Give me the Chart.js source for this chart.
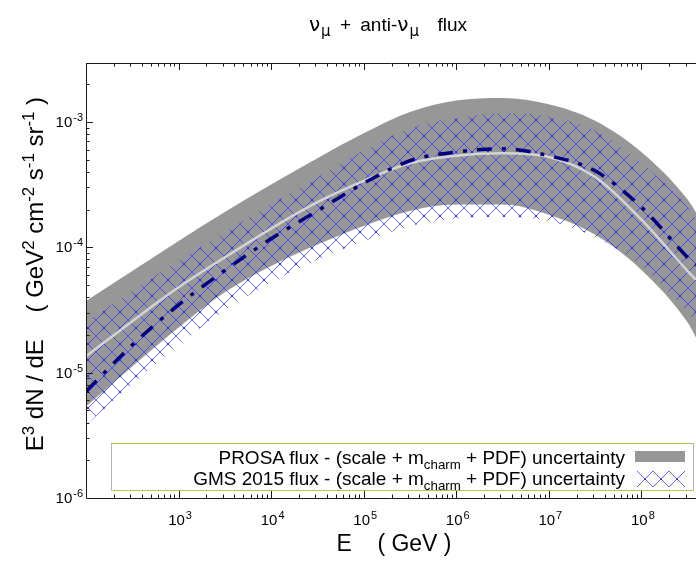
<!DOCTYPE html>
<html>
<head>
<meta charset="utf-8">
<script src="https://cdn.jsdelivr.net/npm/chart.js@4.4.1/dist/chart.umd.min.js"></script>
<style>
  body { margin: 0; background: #fff; }
  #wrap { position: relative; width: 696px; height: 561px; overflow: hidden; font-family: "Liberation Sans", Arial, sans-serif; color: #000; }
  #chart { position: absolute; left: 0; top: 0; }
  .txt { position: absolute; white-space: nowrap; line-height: 1; }
  sub, sup { font-size: 70%; line-height: 0; }
  #title { left: 0; width: 776px; top: 14px; text-align: center; font-size: 19px; word-spacing: 4px; }
  #title .g { font-family: "DejaVu Sans"; font-size: 20px; }
  #title sub.g { font-size: 15px; margin-left: 1px; }
  #xtitle { left: 0; width: 788px; top: 532px; text-align: center; font-size: 23px; }
  #ytitle { left: 23px; top: 517px; width: 420px; text-align: right; font-size: 24px; transform-origin: 0 0; transform: rotate(-90deg); }
  #legend { left: 111px; top: 443px; width: 581px; height: 46px; border: 1px solid #bcc24a; background: #fff; }
  .row { position: absolute; right: 68px; font-size: 19px; line-height: 1; white-space: nowrap; }
  #sw1 { position: absolute; left: 523px; top: 7px; width: 50px; height: 11px; background: #979797; }
  #sw2 { position: absolute; left: 525px; top: 27px; }
</style>
</head>
<body>
<div id="wrap">
  <canvas id="chart" width="696" height="561"></canvas>
  <div id="title" class="txt"><span class="g">ν</span><sub class="g">μ</sub> + anti-<span class="g">ν</span><sub class="g">μ</sub>&nbsp; flux</div>
  <div id="ytitle" class="txt">E<sup>3</sup> dN / dE &nbsp;&nbsp; ( GeV<sup>2</sup> cm<sup>-2</sup> s<sup>-1</sup> sr<sup>-1</sup> )</div>
  <div id="xtitle" class="txt">E &nbsp;&nbsp; ( GeV )</div>
  <div id="legend" class="txt">
    <div class="row" style="top:4px">PROSA flux - (scale + m<sub>charm</sub> + PDF) uncertainty</div>
    <div id="sw1"></div>
    <div class="row" style="top:25px">GMS 2015 flux - (scale + m<sub>charm</sub> + PDF) uncertainty</div>
    <canvas id="sw2" width="48" height="16"></canvas>
  </div>
</div>
<script>
// energies (GeV)
const energy = [1e2, 3.16e2, 1e3, 3.16e3, 1e4, 3.16e4, 1e5, 3.16e5, 1e6, 3.16e6, 1e7, 3.16e7, 1e8, 3.16e8, 3.89e8];

// PROSA: central value and uncertainty band
const prosaCentral = [1.35e-5, 2.57e-5, 4.79e-5, 8.3e-5, 1.41e-4, 2.29e-4, 3.39e-4, 4.68e-4, 5.37e-4, 5.62e-4, 5.25e-4, 3.63e-4, 1.66e-4, 6.46e-5, 5.5e-5];
const prosaUpper = [3.72e-5, 6.46e-5, 1.12e-4, 1.91e-4, 3.16e-4, 5.13e-4, 8.1e-4, 1.2e-3, 1.48e-3, 1.55e-3, 1.38e-3, 1.02e-3, 5.75e-4, 2.4e-4, 1.9e-4];
const prosaLower = [5.37e-6, 1.12e-5, 2.29e-5, 4.37e-5, 7.08e-5, 1.05e-4, 1.48e-4, 1.95e-4, 2.19e-4, 2.19e-4, 1.82e-4, 1.26e-4, 6.6e-5, 2.51e-5, 1.91e-5];

// GMS 2015: central value and uncertainty band
const gmsCentral = [7.08e-6, 1.66e-5, 3.47e-5, 6.53e-5, 1.17e-4, 1.95e-4, 3.24e-4, 4.9e-4, 5.75e-4, 6.1e-4, 5.37e-4, 4.07e-4, 2.09e-4, 8.3e-5, 7.2e-5];
const gmsUpper = [2.51e-5, 4.47e-5, 7.76e-5, 1.32e-4, 2.19e-4, 3.63e-4, 5.89e-4, 8.9e-4, 1.07e-3, 1.17e-3, 1.10e-3, 8.5e-4, 4.68e-4, 2.09e-4, 1.7e-4];
const gmsLower = [3.8e-6, 8.1e-6, 1.66e-5, 3.16e-5, 5.25e-5, 7.94e-5, 1.12e-4, 1.48e-4, 1.7e-4, 1.74e-4, 1.62e-4, 1.2e-4, 7.08e-5, 3.02e-5, 2.51e-5];

// tick labels (base^exponent)
const xTickValues = [1e3, 1e4, 1e5, 1e6, 1e7, 1e8];
const xTickLabels = ['10^3', '10^4', '10^5', '10^6', '10^7', '10^8'];
const yTickValues = [1e-6, 1e-5, 1e-4, 1e-3];
const yTickLabels = ['10^-6', '10^-5', '10^-4', '10^-3'];

const pts = arr => arr.map((v, i) => ({ x: energy[i], y: v }));

function makeHatch(ctx) {
    let c = document.createElement('canvas');
    c.width = 16; c.height = 16;
    let g = c.getContext('2d');
    g.strokeStyle = 'rgba(60,60,255,0.8)';
    g.lineWidth = 1;
    g.beginPath();
    g.moveTo(0, 0); g.lineTo(16, 16);
    g.moveTo(16, 0); g.lineTo(0, 16);
    g.stroke();
    g.fillStyle = 'rgba(40,40,230,0.9)';
    g.fillRect(7, 7, 2, 2);
    return ctx.createPattern(c, 'repeat');
}

// "10" + exposant surélevé
function drawPow(ctx, label, x, y, align) {
    let [base, exp] = label.split('^');
    ctx.font = '15px "Liberation Sans"';
    let wb = ctx.measureText(base).width;
    ctx.font = '11px "Liberation Sans"';
    let we = ctx.measureText(exp).width;
    let start = align === 'right' ? x - wb - we - 1 : x - (wb + we) / 2 + 1;
    ctx.font = '15px "Liberation Sans"';
    ctx.fillText(base, start, y);
    ctx.font = '11px "Liberation Sans"';
    ctx.fillText(exp, start + wb + 1, y - 6);
}

// cadre + graduations tournées vers l'intérieur + libellés
const frameTicks = {
    id: 'frameTicks',
    afterDatasetsDraw(chart) {
        const { ctx, chartArea: a, scales: { x, y } } = chart;
        ctx.save();
        ctx.strokeStyle = '#1a1a1a';
        ctx.lineWidth = 1;
        ctx.beginPath();
        ctx.moveTo(a.left + 0.5, a.top + 0.5);
        ctx.lineTo(a.right, a.top + 0.5);
        ctx.moveTo(a.left + 0.5, a.top);
        ctx.lineTo(a.left + 0.5, a.bottom + 0.5);
        ctx.lineTo(a.right, a.bottom + 0.5);
        for (let e = 2; e <= 8; e++) {
            for (let m = 1; m <= 9; m++) {
                let v = m * Math.pow(10, e);
                if (v <= x.min || v > x.max) continue;
                let px = Math.round(x.getPixelForValue(v)) + 0.5;
                let len = m === 1 ? 7 : 3.5;
                ctx.moveTo(px, a.bottom); ctx.lineTo(px, a.bottom - len);
                ctx.moveTo(px, a.top); ctx.lineTo(px, a.top + len);
            }
        }
        for (let e = -6; e <= -3; e++) {
            for (let m = 1; m <= 9; m++) {
                let v = m * Math.pow(10, e);
                if (v <= y.min || v > y.max) continue;
                let py = Math.round(y.getPixelForValue(v)) + 0.5;
                let len = m === 1 ? 7 : 3.5;
                ctx.moveTo(a.left, py); ctx.lineTo(a.left + len, py);
            }
        }
        ctx.stroke();

        ctx.fillStyle = '#000';
        ctx.textBaseline = 'alphabetic';
        ctx.textAlign = 'left';
        xTickValues.forEach((v, i) => drawPow(ctx, xTickLabels[i], x.getPixelForValue(v), a.bottom + 27, 'center'));
        yTickValues.forEach((v, i) => drawPow(ctx, yTickLabels[i], a.left - 3, y.getPixelForValue(v) + 5, 'right'));
        ctx.restore();
    }
};

const canvas = document.getElementById('chart');
const ctx = canvas.getContext('2d');
const hatch = makeHatch(ctx);

// swatch de la légende
const sw = document.getElementById('sw2').getContext('2d');
sw.fillStyle = makeHatch(sw);
sw.fillRect(0, 0, 48, 16);

const noLine = 'rgba(0,0,0,0)';

new Chart(ctx, {
    type: 'line',
    data: {
        datasets: [
            { label: 'GMS 2015', data: pts(gmsCentral), borderColor: '#000080', borderWidth: 3.5, borderDash: [15, 10, 4, 10], fill: false, order: 0 },
            { label: 'PROSA', data: pts(prosaCentral), borderColor: '#d4d4d4', borderWidth: 2.5, fill: false, order: 1 },
            { label: 'GMS upper', data: pts(gmsUpper), borderColor: noLine, backgroundColor: hatch, fill: 3, order: 2 },
            { label: 'GMS lower', data: pts(gmsLower), borderColor: noLine, fill: false, order: 3 },
            { label: 'PROSA upper', data: pts(prosaUpper), borderColor: noLine, backgroundColor: '#979797', fill: 5, order: 4 },
            { label: 'PROSA lower', data: pts(prosaLower), borderColor: noLine, fill: false, order: 5 }
        ]
    },
    options: {
        responsive: false,
        animation: false,
        devicePixelRatio: 1,
        layout: { padding: { top: 63, left: 0, right: 0, bottom: 0 } },
        elements: {
            point: { radius: 0 },
            line: { cubicInterpolationMode: 'monotone' }
        },
        plugins: {
            legend: { display: false },
            title: { display: false },
            tooltip: { enabled: false }
        },
        scales: {
            x: {
                type: 'logarithmic',
                min: 100,
                max: 3.89e8,
                grid: { display: false },
                border: { display: false },
                afterBuildTicks: scale => { scale.ticks = xTickValues.map(v => ({ value: v })); },
                afterFit: scale => { scale.height = 63; },
                ticks: { display: false }
            },
            y: {
                type: 'logarithmic',
                min: 1e-6,
                max: 2.95e-3,
                grid: { display: false },
                border: { display: false },
                afterBuildTicks: scale => { scale.ticks = yTickValues.map(v => ({ value: v })); },
                afterFit: scale => { scale.width = 86; },
                ticks: { display: false }
            }
        }
    },
    plugins: [frameTicks]
});
</script>
</body>
</html>
